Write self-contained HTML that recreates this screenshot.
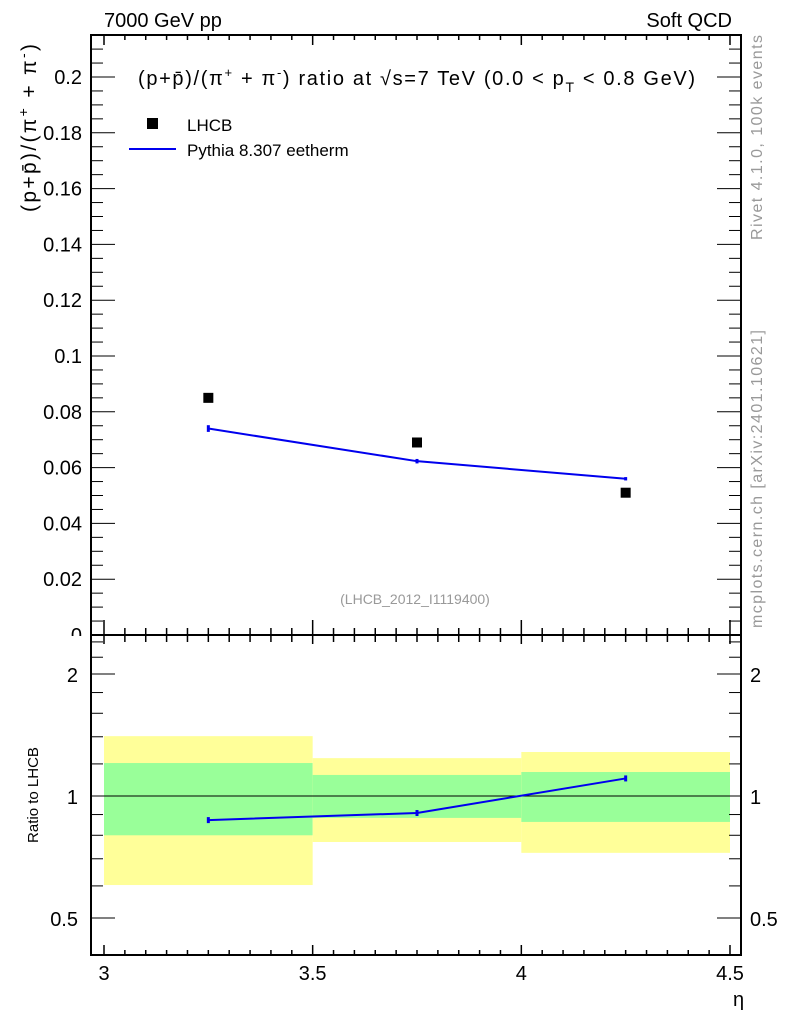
<!DOCTYPE html>
<html><head><meta charset="utf-8"><style>
body{margin:0;background:#fff;width:786px;height:1024px;overflow:hidden}
svg text{font-family:"Liberation Sans",sans-serif}
</style></head><body>
<svg id="c" width="786" height="1024" xmlns="http://www.w3.org/2000/svg"></svg>
<script>
const xCats=[3.25,3.75,4.25];
const binEdges=[3,3.5,4,4.5];
const lhcb=[0.085,0.069,0.051];
const pythia=[0.074,0.0623,0.056];
const pythiaErr=[0.0012,0.0008,0.0006];
const ratio=[0.872,0.908,1.105];
const greenHi=[1.206,1.127,1.146];
const greenLo=[0.80,0.883,0.863];
const yellowHi=[1.405,1.24,1.284];
const yellowLo=[0.603,0.77,0.724];
const yTicks=[0,0.02,0.04,0.06,0.08,0.1,0.12,0.14,0.16,0.18,0.2];
const yTickLabels=["0","0.02","0.04","0.06","0.08","0.1","0.12","0.14","0.16","0.18","0.2"];
const xTicks=[3,3.5,4,4.5];
const xTickLabels=["3","3.5","4","4.5"];
const rTicks=[0.5,1,2];
const rTickLabels=["0.5","1","2"];

const L=91,R=741,T=35,M=635,B=955;
const X=v=>104+(v-3)*417.33;
const Y=v=>635-v*2790;
const RY=v=>796-Math.log2(v)*122;
const svg=document.getElementById('c');
const NS="http://www.w3.org/2000/svg";
function el(tag,attrs,name,txt){const e=document.createElementNS(NS,tag);for(const k in attrs)e.setAttribute(k,attrs[k]);


if(txt!==undefined)e.textContent=txt;svg.appendChild(e);return e;}
yTicks.forEach((v,i)=>el('text',{x:82,y:Y(v)+7,'font-size':20,'text-anchor':'end'},'y-tick-label',yTickLabels[i]));
el('rect',{x:0,y:M+1,width:L,height:40,fill:'#fff'},'label-mask');
for(let i=0;i<3;i++){
 el('rect',{x:X(binEdges[i]),y:RY(yellowHi[i]),width:X(binEdges[i+1])-X(binEdges[i]),height:RY(yellowLo[i])-RY(yellowHi[i]),fill:'#ffff99'},'yellow-band-'+i);
 el('rect',{x:X(binEdges[i]),y:RY(greenHi[i]),width:X(binEdges[i+1])-X(binEdges[i]),height:RY(greenLo[i])-RY(greenHi[i]),fill:'#99ff99'},'green-band-'+i);
}
el('line',{x1:L,x2:R,y1:RY(1),y2:RY(1),stroke:'#000','stroke-width':1},'ratio-unity-line');
el('rect',{x:L,y:T,width:R-L,height:M-T,fill:'none',stroke:'#000','stroke-width':2},'main-frame');
el('rect',{x:L,y:M,width:R-L,height:B-M,fill:'none',stroke:'#000','stroke-width':2},'ratio-frame');
for(let v=0;v<=0.2151;v+=0.005){const y=Y(v);if(y<T)continue;const major=Math.abs(v/0.02-Math.round(v/0.02))<1e-6;const len=major?24:12;
 el('line',{x1:L,x2:L+len,y1:y,y2:y,stroke:'#000'},'y-tick');el('line',{x1:R,x2:R-len,y1:y,y2:y,stroke:'#000'},'y-tick-right');}
const rMinor=[0.5,0.6,0.7,0.8,0.9,1,1.2,1.4,1.6,1.8,2,2.2,2.4];
rMinor.forEach(v=>{const y=RY(v);const major=rTicks.includes(v);const len=major?24:12;
 el('line',{x1:L,x2:L+len,y1:y,y2:y,stroke:'#000'},'ratio-tick');el('line',{x1:R,x2:R-len,y1:y,y2:y,stroke:'#000'},'ratio-tick-right');});
rTicks.forEach((v,i)=>{el('text',{x:78,y:RY(v)+8,'font-size':20,'text-anchor':'end'},'ratio-tick-label',rTickLabels[i]);
 el('text',{x:750,y:RY(v)+8,'font-size':20},'ratio-tick-label-right',rTickLabels[i]);});
for(let v=2.95;v<=4.52;v+=0.05){const x=X(v);if(x<L||x>R)continue;const major=Math.abs(v*2-Math.round(v*2))<1e-6;const len=major?10:5;
 el('line',{x1:x,x2:x,y1:B,y2:B-len,stroke:'#000','stroke-width':1.5},'x-tick-bottom');
 el('line',{x1:x,x2:x,y1:T,y2:T+len,stroke:'#000','stroke-width':1.5},'x-tick-top');
 el('line',{x1:x,x2:x,y1:M-(major?15:7),y2:M+(major?9:7),stroke:'#000','stroke-width':1.5},'x-tick-mid');}
xTicks.forEach((v,i)=>el('text',{x:X(v),y:980,'font-size':20,'text-anchor':'middle'},'x-tick-label',xTickLabels[i]));
let p='';xCats.forEach((v,i)=>p+=(i?'L':'M')+X(v)+','+Y(pythia[i]));
el('path',{d:p,stroke:'#0000ee','stroke-width':2,fill:'none'},'pythia-line');
xCats.forEach((v,i)=>{el('line',{x1:X(v),x2:X(v),y1:Y(pythia[i]-pythiaErr[i]),y2:Y(pythia[i]+pythiaErr[i]),stroke:'#0000ee','stroke-width':3},'pythia-error');});
xCats.forEach((v,i)=>el('rect',{x:X(v)-5,y:Y(lhcb[i])-5,width:10,height:10,fill:'#000'},'lhcb-point'));
let rp='';xCats.forEach((v,i)=>rp+=(i?'L':'M')+X(v)+','+RY(ratio[i]));
el('path',{d:rp,stroke:'#0000ee','stroke-width':2,fill:'none'},'ratio-line');
xCats.forEach((v,i)=>el('line',{x1:X(v),x2:X(v),y1:RY(ratio[i])-3,y2:RY(ratio[i])+3,stroke:'#0000ee','stroke-width':3},'ratio-error'));
el('text',{x:104,y:27,'font-size':20},'energy-label','7000 GeV pp');
el('text',{x:732,y:27,'font-size':20,'text-anchor':'end'},'process-label','Soft QCD');
const t=el('text',{x:138,y:85,'font-size':20},'plot-title');
t.innerHTML='(p+p̄)/(π<tspan dy="-8" font-size="13">+</tspan><tspan dy="8"> + π</tspan><tspan dy="-8" font-size="13">-</tspan><tspan dy="8">) ratio at √s=7 TeV (0.0 &lt; p</tspan><tspan dy="7" font-size="14">T</tspan><tspan dy="-7"> &lt; 0.8 GeV)</tspan>';
t.setAttribute('textLength','557');
el('rect',{x:147,y:118,width:11,height:11,fill:'#000'},'legend-lhcb-marker');
el('text',{x:187,y:131,'font-size':17},'legend-lhcb','LHCB');
el('line',{x1:129,x2:176,y1:149,y2:149,stroke:'#0000ee','stroke-width':2},'legend-pythia-line');
el('text',{x:187,y:156,'font-size':17},'legend-pythia','Pythia 8.307 eetherm');
el('text',{x:415,y:604,'font-size':14,fill:'#999','text-anchor':'middle'},'analysis-id','(LHCB_2012_I1119400)');
const yt=el('text',{x:0,y:0,'font-size':21,transform:'translate(36,128) rotate(-90)','text-anchor':'middle',textLength:168},'y-axis-title');
yt.innerHTML='(p+p̄)/(π<tspan dy="-8" font-size="14">+</tspan><tspan dy="8"> + π</tspan><tspan dy="-8" font-size="14">-</tspan><tspan dy="8">)</tspan>';
el('text',{x:0,y:0,'font-size':15,transform:'translate(38,795) rotate(-90)','text-anchor':'middle'},'ratio-axis-title','Ratio to LHCB');
el('text',{x:733,y:1006,'font-size':20},'x-axis-title','η');
el('text',{x:0,y:0,'font-size':16,fill:'#999',transform:'translate(762,240) rotate(-90)',textLength:205},'rivet-label','Rivet 4.1.0,  100k events');
el('text',{x:0,y:0,'font-size':16,fill:'#999',transform:'translate(762,628) rotate(-90)',textLength:298},'mcplots-label','mcplots.cern.ch [arXiv:2401.10621]');
</script>
</body></html>
